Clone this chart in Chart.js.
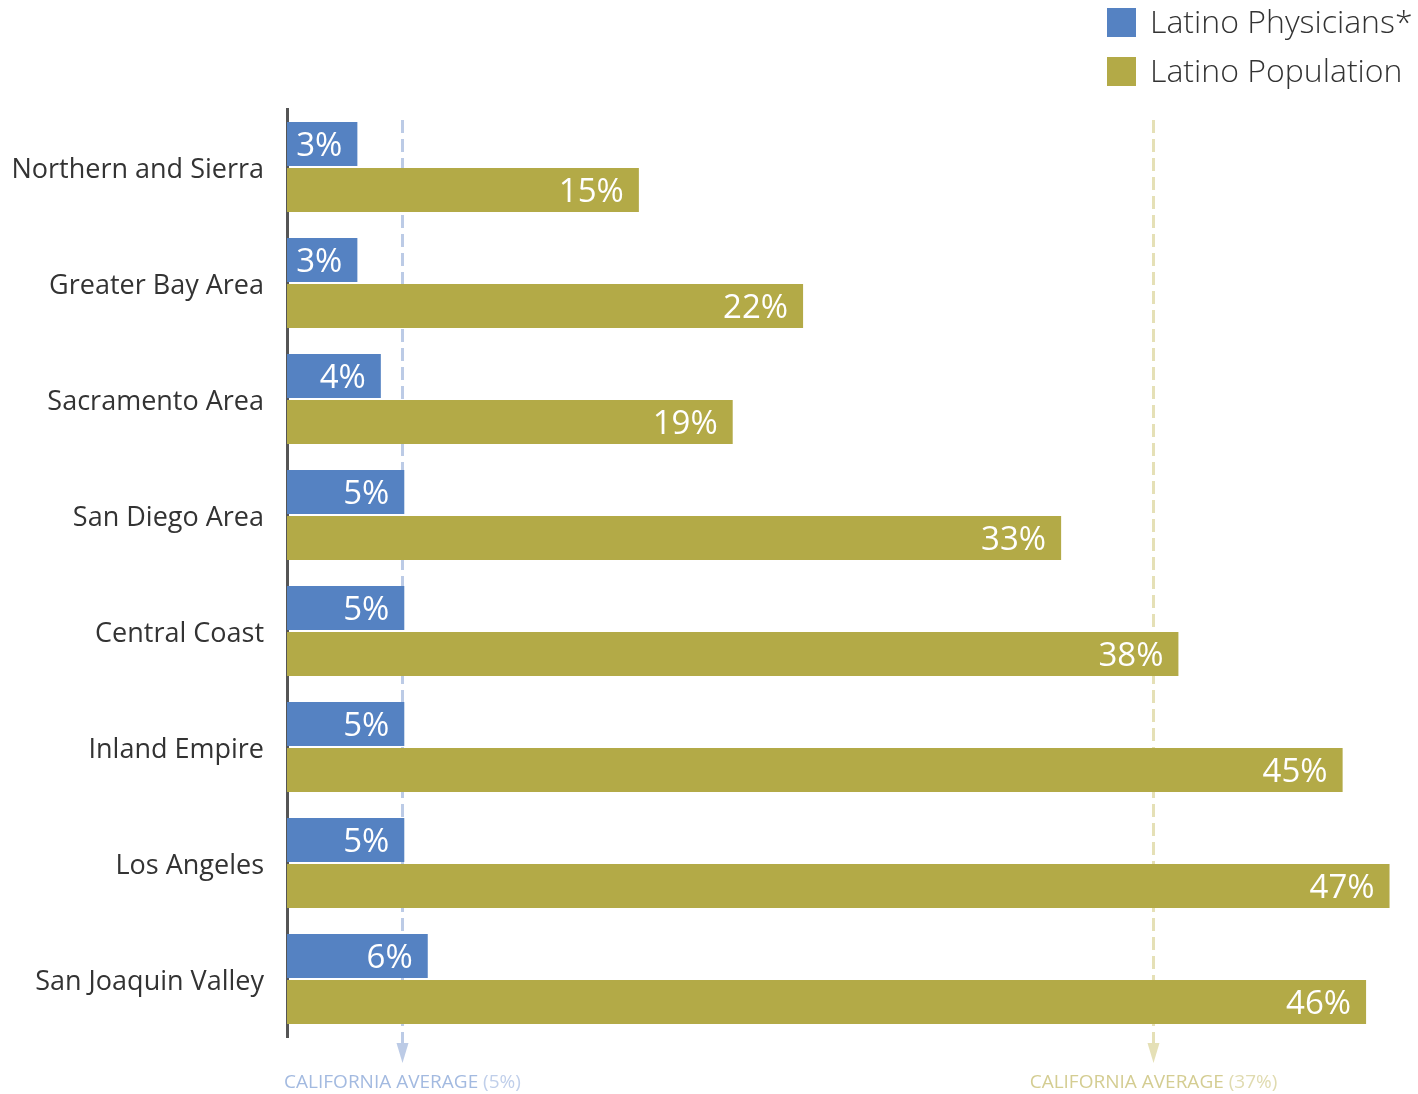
<!DOCTYPE html>
<html lang="en">

<head>
  <meta charset="utf-8">
  <title>Latino Physicians and Population by Region</title>
  <script src="https://cdn.jsdelivr.net/npm/chart.js"></script>
  <style>
    html, body { margin: 0; padding: 0; background: #fff; }
    #wrap { width: 1418px; height: 1094px; position: relative; }
  </style>
</head>

<body>
  <div id="wrap"><canvas id="chart"></canvas></div>

  <script>
    // data
    const regions = ['Northern and Sierra', 'Greater Bay Area', 'Sacramento Area', 'San Diego Area',
      'Central Coast', 'Inland Empire', 'Los Angeles', 'San Joaquin Valley'];
    const physicians = [3, 3, 4, 5, 5, 5, 5, 6];
    const population = [15, 22, 19, 33, 38, 45, 47, 46];
    const physiciansAvg = 5;
    const populationAvg = 37;
    const averageLabel = 'CALIFORNIA AVERAGE';

    const FONT = '"Open Sans", "Noto Sans", sans-serif';
    const BLUE = '#5582c2';
    const GOLD = '#b3aa47';

    const averages = [
      { value: physiciansAvg, line: '#bccbe6', text: '#a3bae0', soft: '#c0cfea' },
      { value: populationAvg, line: '#e5e0b6', text: '#d4cd92', soft: '#e0dbb0' }
    ];

    // dashed average lines, behind the bars
    const averageLines = {
      id: 'averageLines',
      beforeDatasetsDraw(chart) {
        const ctx = chart.ctx;
        const x = chart.scales.x;
        ctx.save();
        ctx.lineWidth = 3;
        ctx.setLineDash([13, 6]);
        averages.forEach(a => {
          const px = Math.round(x.getPixelForValue(a.value)) - 1.5;
          ctx.strokeStyle = a.line;
          ctx.beginPath();
          ctx.moveTo(px, 120);
          ctx.lineTo(px, 1044);
          ctx.stroke();
        });
        ctx.restore();
      },
      afterDraw(chart) {
        const ctx = chart.ctx;
        const x = chart.scales.x;
        ctx.save();
        averages.forEach(a => {
          const px = Math.round(x.getPixelForValue(a.value)) - 1.5;
          // arrow head
          ctx.fillStyle = a.line;
          ctx.beginPath();
          ctx.moveTo(px - 6, 1043);
          ctx.lineTo(px + 6, 1043);
          ctx.lineTo(px, 1063);
          ctx.closePath();
          ctx.fill();
          // caption
          ctx.font = '19px ' + FONT;
          ctx.textBaseline = 'alphabetic';
          const tail = ' (' + a.value + '%)';
          const w1 = ctx.measureText(averageLabel).width;
          const w2 = ctx.measureText(tail).width;
          const left = px - (w1 + w2) / 2;
          ctx.textAlign = 'left';
          ctx.fillStyle = a.text;
          ctx.fillText(averageLabel, left, 1088);
          ctx.fillStyle = a.soft;
          ctx.fillText(tail, left + w1, 1088);
        });
        ctx.restore();
      }
    };

    // percentage labels inside the bar ends
    const barLabels = {
      id: 'barLabels',
      afterDatasetsDraw(chart) {
        const ctx = chart.ctx;
        ctx.save();
        ctx.font = '33px ' + FONT;
        ctx.fillStyle = '#fff';
        ctx.textAlign = 'right';
        ctx.textBaseline = 'middle';
        chart.data.datasets.forEach((ds, i) => {
          chart.getDatasetMeta(i).data.forEach((bar, j) => {
            ctx.fillText(ds.data[j] + '%', bar.x - 15, bar.y + 3);
          });
        });
        ctx.restore();
      }
    };

    // legend in the top right corner
    const cornerLegend = {
      id: 'cornerLegend',
      afterDraw(chart) {
        const ctx = chart.ctx;
        ctx.save();
        ctx.font = '300 32px ' + FONT;
        ctx.textBaseline = 'middle';
        ctx.textAlign = 'left';
        chart.data.datasets.forEach((ds, i) => {
          const y = 8 + i * 49;
          ctx.fillStyle = ds.backgroundColor;
          ctx.fillRect(1107, y, 29, 29);
          ctx.fillStyle = '#333';
          ctx.fillText(ds.label, 1150, y + 16);
        });
        ctx.restore();
      }
    };

    new Chart(document.getElementById('chart'), {
      type: 'bar',
      data: {
        labels: regions,
        datasets: [
          { label: 'Latino Physicians*', data: physicians, backgroundColor: BLUE },
          { label: 'Latino Population', data: population, backgroundColor: GOLD }
        ]
      },
      options: {
        indexAxis: 'y',
        responsive: true,
        maintainAspectRatio: false,
        animation: false,
        categoryPercentage: 92 / 116,
        barPercentage: 44 / 46,
        layout: { padding: { top: 109, bottom: 57, right: 5, left: 0 } },
        plugins: {
          legend: { display: false },
          tooltip: { enabled: false }
        },
        scales: {
          x: { display: false, min: 0, max: 48 },
          y: {
            afterFit(scale) { scale.width = 287; },
            grid: { display: false, drawTicks: false },
            border: { display: true, color: '#555', width: 3 },
            ticks: {
              padding: 23,
              labelOffset: 3,
              color: '#333',
              font: { family: FONT, size: 27 }
            }
          }
        }
      },
      plugins: [averageLines, barLabels, cornerLegend]
    });
  </script>
</body>

</html>
